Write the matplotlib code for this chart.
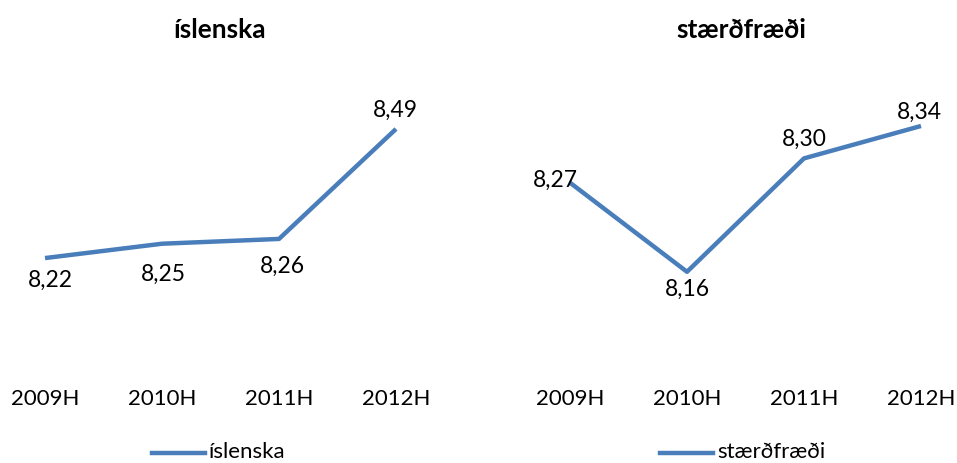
import matplotlib.pyplot as plt

years = ['2009H', '2010H', '2011H', '2012H']
islenska = [8.22, 8.25, 8.26, 8.49]
staerdfraedi = [8.27, 8.16, 8.30, 8.34]

blue = '#4A7EBB'
plt.rcParams['font.family'] = ['Lato', 'DejaVu Sans']

W, H = 957, 464
fig = plt.figure(figsize=(W / 100, H / 100), dpi=100)


def panel(x0, x1, values, ylim, title, offsets):
    ax = fig.add_axes([x0 / W, (H - 370) / H, (x1 - x0) / W, 290 / H])
    xs = list(range(len(values)))
    ax.plot(xs, values, color=blue, lw=3.2, solid_capstyle='butt')
    ax.set_xlim(-45 / 117, (x1 - x0 - 45) / 117)
    ax.set_ylim(*ylim)
    for x, v, (dx, dy) in zip(xs, values, offsets):
        ax.annotate(f'{v:.2f}'.replace('.', ','), (x, v),
                    xytext=(dx * 0.72, -dy * 0.72), textcoords='offset points',
                    ha='center', va='center', fontsize=16.5)
    ax.set_xticks(xs)
    ax.set_xticklabels(years, fontsize=16)
    ax.tick_params(axis='x', length=0, pad=14)
    ax.set_yticks([])
    for s in ax.spines.values():
        s.set_visible(False)
    ax.patch.set_visible(False)
    cx = (x0 + x1) / 2 / W
    fig.text(cx, 1 - 30 / H, title, ha='center', va='center',
             fontsize=19, fontweight='bold')
    return ax


panel(0, 440, islenska, (7.988, 8.5945), 'íslenska',
      [(5, 21), (1, 30), (3, 26), (-1, -20)])
panel(525, 957, staerdfraedi, (8.040, 8.398), 'stærðfræði',
      [(-15, -3), (0, 17), (0, -20), (-2, -15)])

# legends
for lx, label in [(152, 'íslenska'), (660, 'stærðfræði')]:
    fig.add_artist(plt.Line2D([lx / W, (lx + 53) / W], [1 - 454 / H] * 2,
                              color=blue, lw=3.2))
    fig.text((lx + 57) / W, 1 - 452 / H, label, ha='left', va='center',
             fontsize=16)

fig.savefig('out.png', dpi=100)
